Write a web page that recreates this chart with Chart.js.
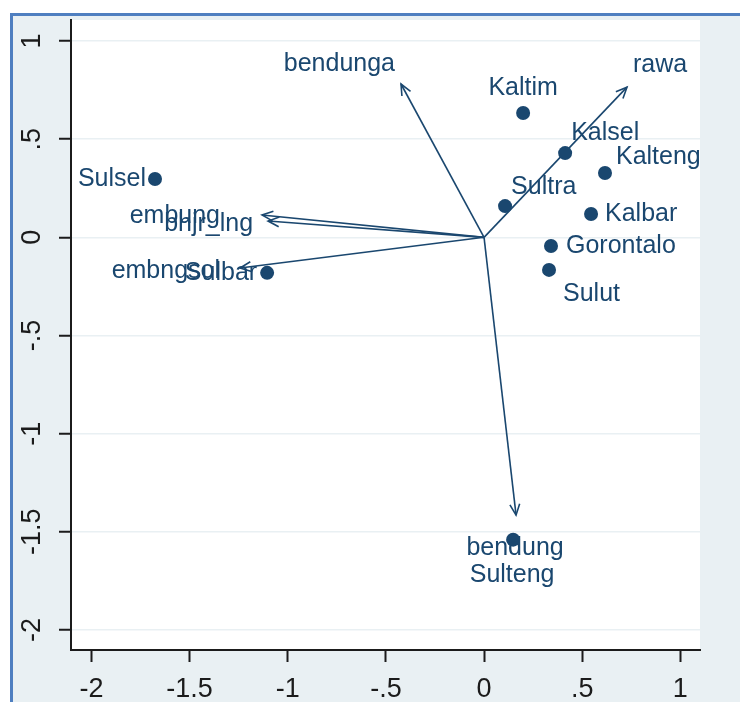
<!DOCTYPE html>
<html>
<head>
<meta charset="utf-8">
<script src="https://cdn.jsdelivr.net/npm/chart.js@4/dist/chart.umd.min.js"></script>
<style>
  html, body { margin: 0; padding: 0; background: #ffffff; }
  #wrap { width: 740px; height: 702px; }
</style>
</head>
<body>
<div id="wrap"><canvas id="biplot" width="740" height="702"></canvas></div>
<script>
// Province scores on the first two components
const provinces = ['Sulsel', 'Sulbar', 'Kaltim', 'Kalsel', 'Kalteng', 'Sultra', 'Kalbar', 'Gorontalo', 'Sulut', 'Sulteng'];
const dim1 = [-1.676, -1.105, 0.199, 0.413, 0.616, 0.107, 0.545, 0.341, 0.331, 0.148];
const dim2 = [0.297, -0.181, 0.633, 0.429, 0.328, 0.159, 0.119, -0.044, -0.166, -1.540];

// Variable loadings (arrows from the origin)
const variables = ['bendunga', 'rawa', 'embung', 'bhjr_lng', 'embngsol', 'bendung'];
const load1 = [-0.423, 0.728, -1.131, -1.100, -1.243, 0.163];
const load2 = [0.781, 0.765, 0.114, 0.083, -0.156, -1.415];

// Axis ticks
const xTickValues = [-2, -1.5, -1, -0.5, 0, 0.5, 1];
const xTickLabels = ['-2', '-1.5', '-1', '-.5', '0', '.5', '1'];
const yTickValues = [-2, -1.5, -1, -0.5, 0, 0.5, 1];
const yTickLabels = ['-2', '-1.5', '-1', '-.5', '0', '.5', '1'];

// Label placement (pixel offsets from the anchor, text alignment)
const provLabelStyle = [
  [-9, 0, 'right'],   // Sulsel
  [-10, 0, 'right'],  // Sulbar
  [0, -25, 'center'], // Kaltim
  [6, -20, 'left'],   // Kalsel
  [11, -16, 'left'],  // Kalteng
  [6, -19, 'left'],   // Sultra
  [14, 0, 'left'],    // Kalbar
  [15, 0, 'left'],    // Gorontalo
  [14, 24, 'left'],   // Sulut
  [-1, 35, 'center']  // Sulteng
];
const varLabelStyle = [
  [-6, -20, 'right'],  // bendunga
  [6, -22, 'left'],    // rawa
  [-42, 1, 'right'],   // embung
  [-15, 3, 'right'],   // bhjr_lng
  [-20, 3, 'right'],   // embngsol
  [-1, 33, 'center']   // bendung
];

const NAVY = '#1a476f';
const LABEL_FONT = '25px "Liberation Sans", Arial, sans-serif';
const TICK_FONT_SIZE = 27;

const pointData = provinces.map((p, i) => ({ x: dim1[i], y: dim2[i] }));
const arrowSets = variables.map((v, i) => ({
  label: v,
  data: [{ x: 0, y: 0 }, { x: load1[i], y: load2[i] }],
  showLine: true,
  borderColor: NAVY,
  borderWidth: 1.6,
  pointRadius: 0
}));

const frame = {
  id: 'frame',
  beforeDraw(chart) {
    const { ctx, chartArea: a, width, height } = chart;
    ctx.save();
    ctx.fillStyle = '#ffffff';
    ctx.fillRect(0, 0, width, height);
    ctx.fillStyle = '#e9f0f3';
    ctx.fillRect(10, 13, width - 10, height - 13);
    ctx.fillStyle = '#ffffff';
    ctx.fillRect(a.left, a.top, a.right - a.left, a.bottom - a.top);
    ctx.strokeStyle = '#4f7fc0';
    ctx.lineWidth = 3;
    ctx.beginPath();
    ctx.moveTo(11.5, height);
    ctx.lineTo(11.5, 14.5);
    ctx.lineTo(width, 14.5);
    ctx.stroke();
    ctx.restore();
  }
};

const annotations = {
  id: 'annotations',
  afterDatasetsDraw(chart) {
    const { ctx, scales: { x, y } } = chart;
    ctx.save();
    // arrow heads
    ctx.strokeStyle = NAVY;
    ctx.lineWidth = 1.6;
    variables.forEach((v, i) => {
      const x0 = x.getPixelForValue(0), y0 = y.getPixelForValue(0);
      const x1 = x.getPixelForValue(load1[i]), y1 = y.getPixelForValue(load2[i]);
      const ang = Math.atan2(y1 - y0, x1 - x0);
      const len = 12, spread = 0.42;
      ctx.beginPath();
      ctx.moveTo(x1 - len * Math.cos(ang - spread), y1 - len * Math.sin(ang - spread));
      ctx.lineTo(x1, y1);
      ctx.lineTo(x1 - len * Math.cos(ang + spread), y1 - len * Math.sin(ang + spread));
      ctx.stroke();
    });
    // text labels
    ctx.fillStyle = NAVY;
    ctx.font = LABEL_FONT;
    ctx.textBaseline = 'middle';
    variables.forEach((v, i) => {
      const s = varLabelStyle[i];
      ctx.textAlign = s[2];
      ctx.fillText(v, x.getPixelForValue(load1[i]) + s[0], y.getPixelForValue(load2[i]) + s[1]);
    });
    provinces.forEach((p, i) => {
      const s = provLabelStyle[i];
      ctx.textAlign = s[2];
      ctx.fillText(p, x.getPixelForValue(dim1[i]) + s[0], y.getPixelForValue(dim2[i]) + s[1]);
    });
    // vertical axis tick labels, rotated
    ctx.fillStyle = '#1b1b1b';
    ctx.font = TICK_FONT_SIZE + 'px "Liberation Sans", Arial, sans-serif';
    ctx.textAlign = 'center';
    yTickValues.forEach((v, i) => {
      ctx.save();
      ctx.translate(33, y.getPixelForValue(v));
      ctx.rotate(-Math.PI / 2);
      ctx.fillText(yTickLabels[i], 0, 0);
      ctx.restore();
    });
    ctx.restore();
  }
};

new Chart(document.getElementById('biplot'), {
  type: 'scatter',
  data: {
    datasets: [
      {
        label: 'provinsi',
        data: pointData,
        pointRadius: 7,
        pointHoverRadius: 7,
        backgroundColor: NAVY,
        borderColor: NAVY,
        borderWidth: 0
      },
      ...arrowSets
    ]
  },
  options: {
    responsive: false,
    devicePixelRatio: 1,
    animation: false,
    layout: { padding: { left: 0, top: 20, right: 40, bottom: 0 } },
    plugins: { legend: { display: false }, tooltip: { enabled: false } },
    scales: {
      x: {
        type: 'linear',
        min: -2.104,
        max: 1.100,
        afterBuildTicks: (s) => { s.ticks = xTickValues.map(v => ({ value: v })); },
        afterFit: (s) => { s.height = 52; },
        grid: { drawOnChartArea: false, drawTicks: true, tickLength: 12, tickColor: '#1b1b1b', tickWidth: 2 },
        border: { display: true, color: '#1b1b1b', width: 2 },
        ticks: {
          color: '#1b1b1b',
          padding: 11,
          maxRotation: 0,
          font: { family: '"Liberation Sans", Arial, sans-serif', size: TICK_FONT_SIZE },
          callback: (v) => xTickLabels[xTickValues.indexOf(v)]
        }
      },
      y: {
        type: 'linear',
        min: -2.102,
        max: 1.107,
        afterBuildTicks: (s) => { s.ticks = yTickValues.map(v => ({ value: v })); },
        afterFit: (s) => { s.width = 71; },
        grid: { color: '#e9f0f3', lineWidth: 1.5, drawTicks: true, tickLength: 12, tickColor: '#1b1b1b', tickWidth: 2 },
        border: { display: true, color: '#1b1b1b', width: 2 },
        ticks: { display: false }
      }
    }
  },
  plugins: [frame, annotations]
});
</script>
</body>
</html>
